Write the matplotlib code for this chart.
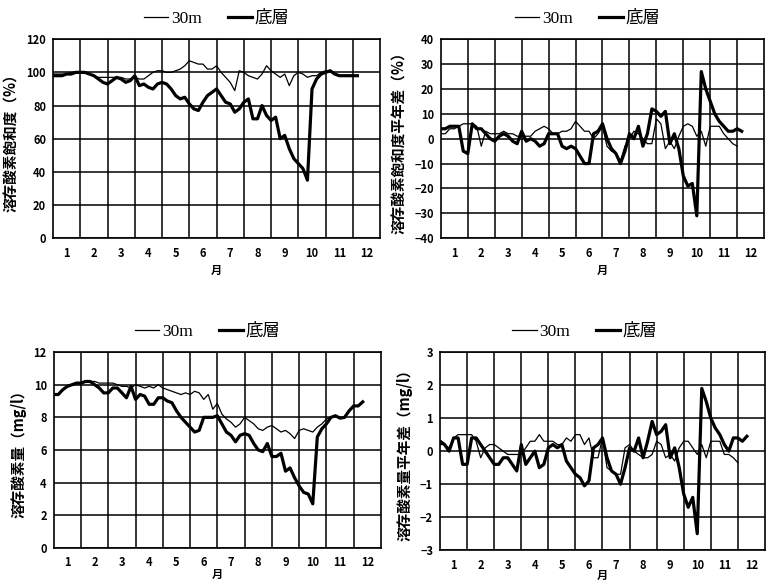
import numpy as np
import matplotlib
matplotlib.use('Agg')
from matplotlib import pyplot as plt

plt.rcParams['font.family'] = ['Liberation Sans Narrow', 'Noto Sans CJK JP', 'DejaVu Sans']

# 横軸は月（1/6ヶ月＝半旬ごとの値）
month_labels = ['1', '2', '3', '4', '5', '6', '7', '8', '9', '10', '11', '12']
legend_labels = ['30m', '底層']

# 溶存酸素飽和度（%）
sat_30m = [99, 99, 99, 99, 100, 100,
           100, 100, 99, 98, 97, 97,
           97, 97, 97, 97, 96, 96,
           97, 96, 96, 98, 100, 101,
           101, 100, 100, 101, 102, 104,
           107, 106, 105, 105, 102, 102,
           104, 100, 97, 94, 89, 101,
           100, 98, 97, 96, 99, 104,
           101, 99, 97, 99, 92, 98,
           100, 99, 97, 98, 98, 100,
           101, 101, 99, 98, 98, 98,
           98, 98]
sat_bottom = [98, 98, 98, 99, 99, 100,
              100, 100, 99, 98, 96, 94,
              93, 95, 97, 96, 94, 95,
              98, 92, 93, 91, 90, 93,
              94, 93, 90, 86, 84, 85,
              81, 78, 77, 82, 86, 88,
              90, 86, 82, 81, 76, 78,
              82, 84, 72, 72, 80, 74,
              71, 73, 60, 62, 54, 48,
              45, 42, 35, 90, 96, 99,
              100, 101, 99, 98, 98, 98,
              98, 98]

# 溶存酸素飽和度平年差（%）
sat_anom_30m = [2, 2, 4, 4, 5, 6,
                6, 6, 5, -3, 3, 2,
                2, 2, 3, 2, 2, 1,
                1, 1, 1, 3, 4, 5,
                4, 2, 2, 3, 3, 4,
                7, 5, 3, 3, 0, 2,
                5, -3, -5, -6, -9, -3,
                0, 3, 2, 0, -2, -2,
                8, 6, -4, -1, -4, 1,
                5, 6, 5, 1, 3, -3,
                5, 5, 5, 2, 0, -2,
                -3]
sat_anom_bottom = [4, 4, 5, 5, 5, -5,
                   -6, 6, 4, 4, 2, 0,
                   -1, 1, 2, 1, -1, -2,
                   3, -1, 0, -1, -3, -2,
                   2, 2, 2, -3, -4, -3,
                   -4, -7, -10, -10, 2, 3,
                   6, 0, -4, -6, -10, -5,
                   2, 0, 5, -3, 2, 12,
                   11, 9, 11, -2, 2, -4,
                   -15, -19, -18, -31, 27, 20,
                   15, 10, 7, 5, 3, 3,
                   4, 3]

# 溶存酸素量（mg/l）
do_30m = [9.4, 9.4, 9.7, 9.9, 10.0, 10.1,
          10.1, 10.2, 10.2, 10.2, 10.1, 10.1,
          10.1, 10.1, 10.0, 9.9, 9.9, 9.8,
          10.0, 9.9, 9.8, 9.9, 9.8, 10.0,
          9.8, 9.7, 9.6, 9.5, 9.4, 9.5,
          9.4, 9.6, 9.5, 9.1, 9.4, 8.5,
          8.85, 8.2, 7.9, 7.7, 7.4, 7.6,
          8.0, 7.8, 7.6, 7.3, 7.2, 7.4,
          7.5, 7.3, 7.1, 7.2, 7.0, 6.7,
          7.2, 7.3, 7.2, 7.1, 7.4, 7.6,
          7.9, 8.0, 8.1, 7.95, 8.0, 8.4,
          8.7, 8.7, 8.95]
do_bottom = [9.4, 9.4, 9.7, 9.9, 10.0, 10.1,
             10.1, 10.2, 10.2, 10.0, 9.8, 9.5,
             9.5, 9.8, 9.8, 9.5, 9.2, 9.9,
             9.1, 9.4, 9.3, 8.8, 8.8, 9.2,
             9.2, 9.0, 8.9, 8.4, 8.0, 7.7,
             7.4, 7.1, 7.2, 8.0, 8.0, 8.0,
             8.1, 7.6, 7.1, 6.9, 6.5, 6.9,
             7.0, 6.9, 6.4, 6.0, 5.9, 6.4,
             5.6, 5.6, 5.8, 4.7, 4.9, 4.3,
             3.8, 3.4, 3.3, 2.7, 6.8, 7.3,
             7.6, 8.0, 8.1, 7.95, 8.0, 8.4,
             8.7, 8.7, 8.95]

# 溶存酸素量平年差（mg/l）
do_anom_30m = [0.2, 0.2, 0.1, 0.4, 0.5, 0.5,
               0.5, 0.5, 0.3, -0.2, 0.1, 0.2,
               0.2, 0.1, 0.0, -0.1, -0.1, -0.1,
               -0.1, 0.1, 0.3, 0.3, 0.5, 0.3,
               0.3, 0.3, 0.2, 0.2, 0.4, 0.3,
               0.5, 0.5, 0.2, 0.4, -0.2, -0.2,
               0.4, -0.5, -0.6, -0.7, -0.7, 0.1,
               0.2, 0.0, -0.1, -0.2, -0.2, -0.1,
               0.3, 0.2, -0.2, -0.1, -0.3, 0.1,
               0.3, 0.3, 0.1, -0.1, 0.2, -0.2,
               0.3, 0.3, 0.3, -0.1, -0.1, -0.2,
               -0.35]
do_anom_bottom = [0.3, 0.2, 0.0, 0.4, 0.4, -0.4,
                  -0.4, 0.4, 0.4, 0.2, 0.0, -0.2,
                  -0.4, -0.4, -0.2, -0.2, -0.4, -0.6,
                  0.2, -0.4, -0.2, 0.0, -0.5, -0.4,
                  0.1, 0.2, 0.1, 0.2, -0.3, -0.5,
                  -0.7, -0.8, -1.05, -0.9, 0.1, 0.2,
                  0.4, -0.2, -0.6, -0.7, -1.0, -0.5,
                  0.1, 0.0, 0.4, -0.2, 0.3, 0.9,
                  0.5, 0.6, 0.8, -0.2, 0.1, -0.5,
                  -1.3, -1.7, -1.4, -2.5, 1.9, 1.5,
                  1.0, 0.7, 0.5, 0.2, 0.0, 0.4,
                  0.4, 0.3, 0.45]

panels = [
    # (位置, 30m, 底層, y範囲, y目盛, y軸名, 凡例中心x, 「月」の位置)
    ([0.069, 0.590, 0.426, 0.3425], sat_30m, sat_bottom, (0, 120), np.arange(0, 121, 20),
     '溶存酸素飽和度（%）', 0.5, -0.13),
    ([0.574, 0.590, 0.421, 0.3425], sat_anom_30m, sat_anom_bottom, (-40, 40), np.arange(-40, 41, 10),
     '溶存酸素飽和度平年差（%）', 0.454, -0.13),
    ([0.070, 0.057, 0.426, 0.337], do_30m, do_bottom, (0, 12), np.arange(0, 13, 2),
     '溶存酸素量（mg/l）', 0.47, -0.105),
    ([0.573, 0.053, 0.423, 0.341], do_anom_30m, do_anom_bottom, (-3, 3), np.arange(-3, 4, 1),
     '溶存酸素量平年差（mg/l）', 0.446, -0.095),
]

fig = plt.figure(figsize=(7.68, 5.81), dpi=100)

for rect, s30, sbot, ylim, yt, ylab, lx, mpos in panels:
    ax = fig.add_axes(rect)
    x30 = np.arange(len(s30)) / 6.0
    xb = np.arange(len(sbot)) / 6.0
    l1, = ax.plot(x30, s30, color='black', lw=0.9, label=legend_labels[0])
    l2, = ax.plot(xb, sbot, color='black', lw=2.3, label=legend_labels[1])

    ax.set_xlim(0, 12)
    ax.set_ylim(*ylim)
    ax.set_yticks(yt)
    ax.set_xticks(np.arange(1, 12), minor=False)
    ax.set_xticklabels([])
    ax.set_xticks(np.arange(12) + 0.5, minor=True)
    ax.set_xticklabels(month_labels, minor=True)
    ax.tick_params(axis='y', length=0, labelsize=8, pad=5)
    ax.tick_params(axis='x', which='both', length=0, labelsize=8, pad=6)
    for t in ax.get_yticklabels() + ax.get_xticklabels(minor=True):
        t.set_fontweight('bold')
    ax.grid(True, which='major', color='black', lw=1.1)
    ax.set_axisbelow(True)
    for sp in ax.spines.values():
        sp.set_linewidth(1.2)

    ax.set_xlabel('月', fontsize=8, fontweight='bold', family=['Noto Sans CJK JP'])
    ax.xaxis.set_label_coords(0.5, mpos)
    ax.set_ylabel(ylab, fontsize=10.5, fontweight='bold', family=['Noto Sans CJK JP', 'DejaVu Sans'],
                  labelpad=5)

    ax.legend(handles=[l1, l2], ncol=2, loc='lower center', bbox_to_anchor=(lx, 1.0),
              frameon=False, handlelength=1.4, handletextpad=0.15, columnspacing=1.5,
              borderaxespad=0.3,
              prop={'family': ['Liberation Serif', 'Noto Sans CJK JP'], 'size': 12.5})

fig.savefig('out.png', dpi=100)
